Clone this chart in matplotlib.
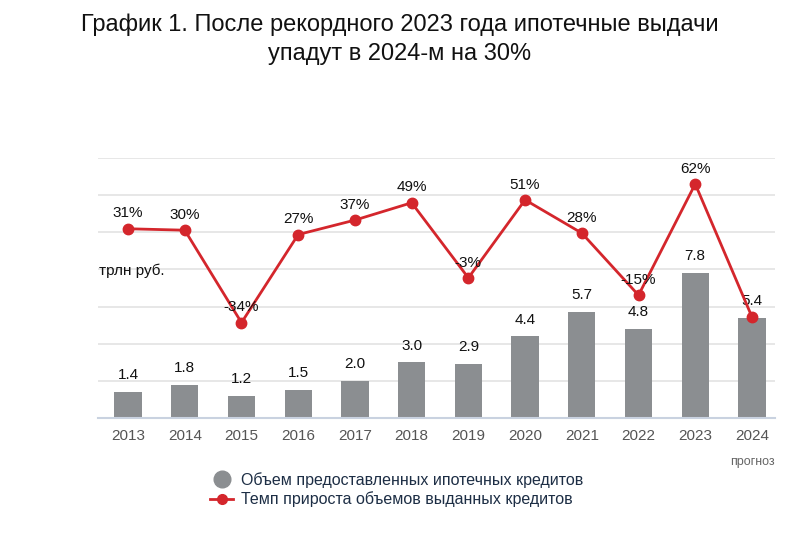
import numpy as np
import matplotlib.pyplot as plt
from matplotlib.lines import Line2D

plt.rcParams['font.family'] = ['Liberation Sans', 'DejaVu Sans']

years = ['2013', '2014', '2015', '2016', '2017', '2018',
         '2019', '2020', '2021', '2022', '2023', '2024']
volume = [1.4, 1.8, 1.2, 1.5, 2.0, 3.0, 2.9, 4.4, 5.7, 4.8, 7.8, 5.4]
growth = [31, 30, -34, 27, 37, 49, -3, 51, 28, -15, 62, -30]
growth_labels = ['31%', '30%', '-34%', '27%', '37%', '49%', '-3%', '51%',
                 '28%', '-15%', '62%', '']

bar_color = '#8b8e91'
red = '#d4262c'
grid_color = '#e3e3e3'

fig = plt.figure(figsize=(8, 5.33), dpi=100)
ax = fig.add_axes([0.1225, 0.2158, 0.8465, 0.4878])
x = np.arange(len(years))

ax.bar(x, volume, width=0.48, color=bar_color, zorder=2)
ax.set_ylim(0, 14)
ax.set_yticks(np.arange(0, 15, 2))
ax.set_xlim(-0.53, 11.41)
ax.grid(axis='y', color=grid_color, linewidth=1.2, zorder=0)
ax.set_axisbelow(True)
for s in ['top', 'right', 'left']:
    ax.spines[s].set_visible(False)
ax.spines['bottom'].set_color('#c9d2e0')
ax.spines['bottom'].set_linewidth(1.5)
ax.tick_params(axis='y', length=0, labelleft=False)
ax.tick_params(axis='x', length=0, pad=8, labelsize=11, labelcolor='#555555')
ax.set_xticks(x)
ax.set_xticklabels(years)

for xi, v in zip(x, volume):
    ax.annotate(f'{v:.1f}', (xi, v), xytext=(0, 7), textcoords='offset points',
                ha='center', va='bottom', fontsize=11, color='#111111', zorder=5)

ax.text(0.002, 0.565, 'трлн руб.', transform=ax.transAxes, fontsize=11,
        color='#111111', va='center', ha='left')

ax2 = ax.twinx()
ax2.set_ylim(-100, 80)
ax2.axis('off')
ax2.plot(x, growth, color=red, linewidth=2, marker='o', markersize=7.5, zorder=4)
for xi, g, lab in zip(x, growth, growth_labels):
    ax2.annotate(lab, (xi, g), xytext=(0, 6), textcoords='offset points',
                 ha='center', va='bottom', fontsize=11, color='#111111', zorder=5)

ax.text(11, -0.145, 'прогноз', transform=ax.get_xaxis_transform(), ha='center',
        va='top', fontsize=9, color='#666666')

fig.text(0.5, 0.975, 'График 1. После рекордного 2023 года ипотечные выдачи\nупадут в 2024-м на 30%',
         ha='center', va='top', fontsize=17, color='#111111', linespacing=1.4)

handles = [Line2D([], [], color=bar_color, marker='o', linestyle='none', markersize=12),
           Line2D([], [], color=red, marker='o', linewidth=2, markersize=7)]
fig.legend(handles, ['Объем предоставленных ипотечных кредитов',
                     'Темп прироста объемов выданных кредитов'],
           loc='upper left', bbox_to_anchor=(0.253, 0.13), frameon=False,
           fontsize=11.5, labelcolor='#1d2e45', handlelength=1.4,
           handletextpad=0.5, labelspacing=0.25, borderpad=0)

fig.savefig('out.png', dpi=100)
